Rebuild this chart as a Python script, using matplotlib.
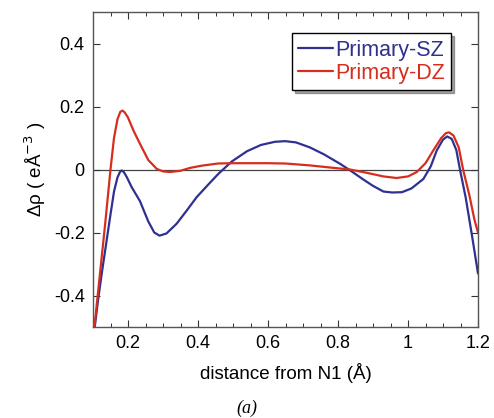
import matplotlib
matplotlib.use("Agg")
import matplotlib.pyplot as plt
import numpy as np
from matplotlib.ticker import MultipleLocator

plt.rcParams['font.family'] = ['Liberation Sans', 'DejaVu Sans']

x_sz = [0.105, 0.115, 0.125, 0.137, 0.149, 0.16, 0.17, 0.177, 0.182, 0.188, 0.197, 0.21, 0.234, 0.258, 0.275,
        0.29, 0.31, 0.339, 0.368, 0.396, 0.43, 0.458, 0.496, 0.54, 0.58, 0.62, 0.649, 0.68, 0.72, 0.76,
        0.806, 0.839, 0.87, 0.9, 0.93, 0.955, 0.983, 1.01, 1.044, 1.065, 1.082, 1.1, 1.112, 1.125, 1.138,
        1.149, 1.165, 1.182, 1.2]
y_sz = [-0.5, -0.41, -0.33, -0.24, -0.15, -0.07, -0.025, -0.008, -0.003, -0.008, -0.025, -0.055, -0.10, -0.165, -0.2,
        -0.21, -0.203, -0.172, -0.13, -0.088, -0.047, -0.014, 0.025, 0.058, 0.078, 0.088, 0.090, 0.086, 0.07, 0.048,
        0.018, -0.006, -0.03, -0.052, -0.07, -0.073, -0.072, -0.06, -0.03, 0.01, 0.06, 0.095, 0.105, 0.097, 0.062,
        -0.003, -0.09, -0.204, -0.33]

x_dz = [0.104, 0.12, 0.135, 0.15, 0.16, 0.17, 0.178, 0.184, 0.19, 0.2, 0.215, 0.234, 0.258, 0.282, 0.3, 0.32,
        0.35, 0.377, 0.41, 0.457, 0.5, 0.55, 0.6, 0.65, 0.72, 0.78, 0.834, 0.88, 0.93, 0.967,
        1.0, 1.025, 1.05, 1.072, 1.095, 1.108, 1.117, 1.13, 1.145, 1.158, 1.175, 1.19, 1.2]
y_dz = [-0.5, -0.33, -0.17, 0.0, 0.1, 0.16, 0.183, 0.187, 0.182, 0.165, 0.125, 0.082, 0.03, 0.002, -0.006, -0.008,
        -0.004, 0.005, 0.012, 0.019, 0.02, 0.02, 0.02, 0.019, 0.013, 0.006, 0.0, -0.01, -0.022, -0.027,
        -0.022, -0.008, 0.02, 0.06, 0.1, 0.115, 0.118, 0.108, 0.07, -0.003, -0.08, -0.16, -0.2]

labels = ['Primary-SZ', 'Primary-DZ']
colors = ['#2e318f', '#d62d1e']

fig = plt.figure(figsize=(4.94, 4.18), dpi=100)
ax = fig.add_axes([93/494, 1-327/418, 385/494, 315/418])

ax.axhline(0, color='#444444', lw=0.9, zorder=1)
ax.plot(x_sz, y_sz, color=colors[0], lw=1.6, label=labels[0], zorder=3,
        solid_joinstyle='round', solid_capstyle='round')
ax.plot(x_dz, y_dz, color=colors[1], lw=1.6, label=labels[1], zorder=3,
        solid_joinstyle='round', solid_capstyle='round')

ax.set_xlim(0.1, 1.2)
ax.set_ylim(-0.5, 0.5)
ax.xaxis.set_minor_locator(MultipleLocator(0.05))
ax.set_xticks([0.2, 0.4, 0.6, 0.8, 1.0, 1.2])
ax.set_xticklabels(['0.2', '0.4', '0.6', '0.8', '1', '1.2'])
ax.set_yticks([-0.4, -0.2, 0, 0.2, 0.4])
ax.set_yticklabels(['-0.4', '-0.2', '0', '0.2', '0.4'])
ax.tick_params(which='both', direction='in', top=True, right=True, labelsize=13, color='#333333')
ax.tick_params(which='major', length=5, width=0.8, pad=6)
ax.tick_params(which='minor', length=3, width=0.7)
for s in ax.spines.values():
    s.set_color('#555555')
    s.set_linewidth(1.0)

ax.set_xlabel('distance from N1 (Å)', fontsize=13.5, labelpad=8)
ax.set_ylabel('Δρ ( eÅ$^{-3}$ )', fontsize=13.5, labelpad=4)

leg = ax.legend(loc='upper right', bbox_to_anchor=(0.93, 0.932), fontsize=15.5, frameon=True,
                fancybox=False, shadow=True, edgecolor='black', handlelength=1.6,
                handletextpad=0.1, borderpad=0.3, labelspacing=0.1, borderaxespad=0)
leg.get_frame().set_linewidth(1.0)
for t, c in zip(leg.get_texts(), colors):
    t.set_color(c)

fig.text(0.5, 1-408/418, '(a)', fontsize=13, family='Liberation Serif', style='italic',
         ha='center', va='center')

fig.savefig('out.png', dpi=100)
